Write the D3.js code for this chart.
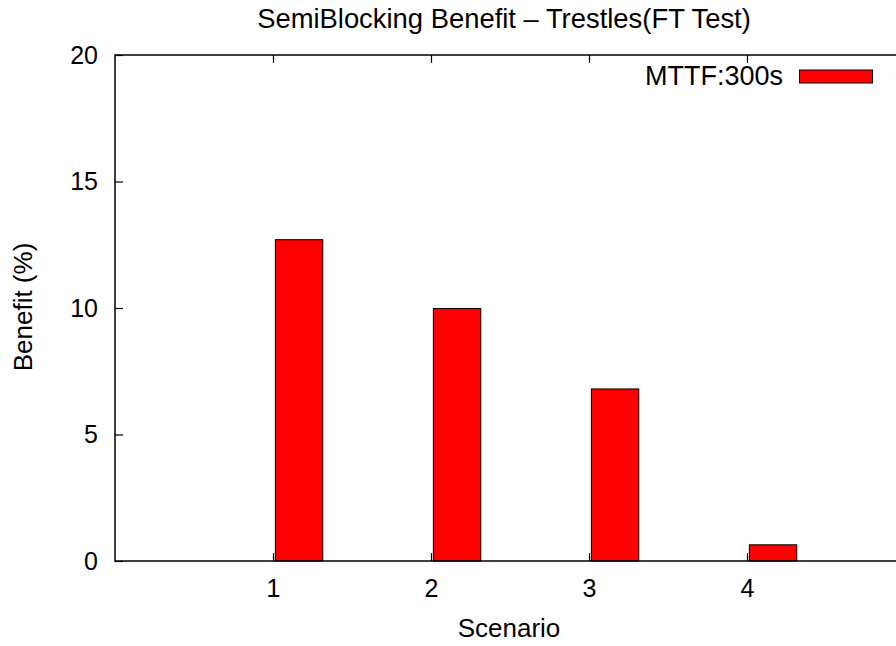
<!DOCTYPE html>
<html>
<head>
<meta charset="utf-8">
<script src="https://cdn.jsdelivr.net/npm/d3@7"></script>
<style>
  html, body { margin: 0; padding: 0; background: #fff; }
  svg { display: block; }
  text { font-family: "Liberation Sans", Arial, Helvetica, sans-serif; fill: #000; }
</style>
</head>
<body>
<svg id="chart" width="896" height="646"></svg>
<script>
// Benefit of semi-blocking per scenario
const scenarios = [1, 2, 3, 4];
const benefit = [12.7, 9.98, 6.8, 0.64];
const seriesName = "MTTF:300s";
const yTicks = [0, 5, 10, 15, 20];
const titleText = "SemiBlocking Benefit \u2013 Trestles(FT Test)";

const W = 896, H = 646;
const m = { left: 115, right: 905, top: 55, bottom: 561 };
const fontSize = 25;
const tickLen = 8;

const svg = d3.select("#chart");

const x = d3.scaleLinear().domain([0, 5]).range([m.left, m.right]);
const y = d3.scaleLinear().domain([0, 20]).range([m.bottom, m.top]);

// Bars sit just right of each scenario tick
const barOffset = 0.015, barWidth = 0.3;
svg.append("g").selectAll("rect")
  .data(scenarios.map((s, i) => ({ s, v: benefit[i] })))
  .join("rect")
  .attr("x", d => x(d.s + barOffset))
  .attr("width", d => x(d.s + barOffset + barWidth) - x(d.s + barOffset))
  .attr("y", d => y(d.v))
  .attr("height", d => y(0) - y(d.v))
  .attr("fill", "#ff0000")
  .attr("stroke", "#000")
  .attr("stroke-width", 1);

// Axes with inward ticks, mirrored on all four sides
const axisStyle = g => {
  g.select(".domain").remove();
  g.selectAll(".tick line").attr("stroke", "#000").attr("stroke-width", 1.2);
  g.selectAll(".tick text").style("font-size", fontSize + "px");
};

svg.append("g")
  .attr("transform", `translate(0,${m.bottom})`)
  .call(d3.axisBottom(x).tickValues(scenarios).tickFormat(d3.format("d"))
        .tickSizeInner(-tickLen).tickSizeOuter(0).tickPadding(18))
  .call(axisStyle)
  .call(g => g.selectAll(".tick text").attr("dy", "0.71em"));

svg.append("g")
  .attr("transform", `translate(0,${m.top})`)
  .call(d3.axisTop(x).tickValues(scenarios).tickFormat("")
        .tickSizeInner(-tickLen).tickSizeOuter(0))
  .call(axisStyle);

svg.append("g")
  .attr("transform", `translate(${m.left},0)`)
  .call(d3.axisLeft(y).tickValues(yTicks).tickFormat(d3.format("d"))
        .tickSizeInner(-tickLen).tickSizeOuter(0).tickPadding(17))
  .call(axisStyle);

svg.append("g")
  .attr("transform", `translate(${m.right},0)`)
  .call(d3.axisRight(y).tickValues(yTicks).tickFormat("")
        .tickSizeInner(-tickLen).tickSizeOuter(0))
  .call(axisStyle);

// Plot frame
svg.append("rect")
  .attr("x", m.left).attr("y", m.top)
  .attr("width", m.right - m.left).attr("height", m.bottom - m.top)
  .attr("fill", "none").attr("stroke", "#000").attr("stroke-width", 1.5);

// Title and axis labels
svg.append("text")
  .attr("x", 504).attr("y", 28)
  .attr("text-anchor", "middle")
  .style("font-size", "27.4px")
  .text(titleText);

svg.append("text")
  .attr("x", 509).attr("y", 637)
  .attr("text-anchor", "middle")
  .style("font-size", "26px")
  .text("Scenario");

svg.append("text")
  .attr("transform", "translate(32,307) rotate(-90)")
  .attr("text-anchor", "middle")
  .style("font-size", "26px")
  .text("Benefit (%)");

// Legend
const legend = svg.append("g");
legend.append("text")
  .attr("x", 783).attr("y", 85)
  .attr("text-anchor", "end")
  .style("font-size", "27px")
  .text(seriesName);
legend.append("rect")
  .attr("x", 799.5).attr("y", 70)
  .attr("width", 73).attr("height", 13)
  .attr("fill", "#ff0000")
  .attr("stroke", "#000")
  .attr("stroke-width", 1);
</script>
</body>
</html>
